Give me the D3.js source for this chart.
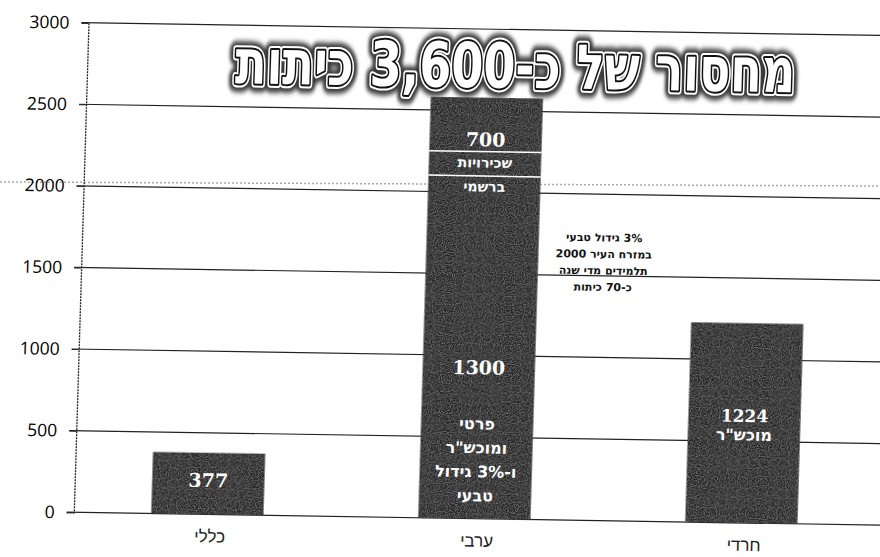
<!DOCTYPE html>
<html>
<head>
<meta charset="utf-8">
<script src="https://cdn.jsdelivr.net/npm/d3@7"></script>
<style>
  body { margin: 0; background: #fff; }
  svg { display: block; }
  .heb { direction: rtl; unicode-bidi: embed; }
</style>
</head>
<body>
<div id="chart"></div>
<script>
// data
const categories = ["כללי", "ערבי", "חרדי"];
const segments = [[377], [2100, 150, 330], [1224]]; // ערבי bar is stacked
const yTicks = [0, 500, 1000, 1500, 2000, 2500, 3000];
const titleText = "מחסור של כ-3,600 כיתות";
const noteLines = ["3% גידול טבעי", "במזרח העיר 2000", "תלמידים מדי שנה", "כ-70 כיתות"];

const width = 880, height = 557;
const margin = { top: 28.5, right: -2, bottom: 39, left: 81 };

const svg = d3.select("#chart").append("svg")
  .attr("width", width)
  .attr("height", height);

svg.append("rect").attr("width", width).attr("height", height).attr("fill", "#fff");

const defs = svg.append("defs");
defs.append("filter").attr("id", "halo")
  .append("feGaussianBlur").attr("stdDeviation", 2.5);

// light speckle like the photocopy
const grain = defs.append("filter").attr("id", "grain");
grain.append("feTurbulence")
  .attr("type", "fractalNoise").attr("baseFrequency", 0.9).attr("numOctaves", 1)
  .attr("seed", 3).attr("result", "n");
grain.append("feColorMatrix").attr("in", "n").attr("type", "matrix")
  .attr("values", "0 0 0 0 0.6  0 0 0 0 0.6  0 0 0 0 0.6  0 0 0 0.8 -0.35")
  .attr("result", "w");
grain.append("feComposite").attr("in", "w").attr("in2", "SourceGraphic")
  .attr("operator", "in").attr("result", "wc");
const merge = grain.append("feMerge");
merge.append("feMergeNode").attr("in", "SourceGraphic");
merge.append("feMergeNode").attr("in", "wc");

// scanner artefact line
svg.append("line")
  .attr("x1", 0).attr("x2", width)
  .attr("y1", 182).attr("y2", 186)
  .attr("stroke", "#aaa").attr("stroke-width", 1.5)
  .attr("stroke-dasharray", "2,2");

// the page was scanned slightly crooked (shear)
const kx = 0.03, ky = 0.016;
const g = svg.append("g")
  .attr("transform", `matrix(1, ${ky}, ${-kx}, 1, ${kx * 278}, ${-ky * 440})`);

const x = d3.scaleBand()
  .domain(categories)
  .range([margin.left, width - margin.right])
  .paddingInner(0.58)
  .paddingOuter(0.29);

const y = d3.scaleLinear()
  .domain([0, 3000])
  .range([height - margin.bottom, margin.top]);

// gridlines
g.append("g")
  .selectAll("line")
  .data(yTicks)
  .enter().append("line")
    .attr("x1", margin.left - 7)
    .attr("x2", width + 20)
    .attr("y1", d => y(d))
    .attr("y2", d => y(d))
    .attr("stroke", "#222")
    .attr("stroke-width", 1.2);

// y axis
const yAxis = g.append("g")
  .attr("transform", `translate(${margin.left}, 0)`)
  .call(d3.axisLeft(y).tickValues(yTicks).tickSize(7).tickPadding(12).tickFormat(d3.format("d")));
yAxis.select(".domain").attr("stroke", "#222").attr("stroke-dasharray", "2,1").attr("stroke-width", 1.3);
yAxis.selectAll(".tick line").attr("stroke", "#222");
yAxis.selectAll(".tick text")
  .attr("fill", "#000")
  .attr("font-family", "'Open Sans', sans-serif")
  .attr("font-size", 17.5);

// bars
const rects = [];
segments.forEach((segs, i) => {
  let base = 0;
  segs.forEach((v, j) => {
    rects.push({ cat: categories[i], y0: base, y1: base + v, j: j });
    base += v;
  });
});

g.append("g")
  .attr("filter", "url(#grain)")
  .selectAll("rect")
  .data(rects)
  .enter().append("rect")
    .attr("x", d => x(d.cat))
    .attr("y", d => y(d.y1))
    .attr("width", x.bandwidth())
    .attr("height", d => y(d.y0) - y(d.y1))
    .attr("fill", "#262626");

// white separators inside the stacked bar
g.append("g")
  .selectAll("line")
  .data(rects.filter(d => d.j > 0))
  .enter().append("line")
    .attr("x1", d => x(d.cat))
    .attr("x2", d => x(d.cat) + x.bandwidth())
    .attr("y1", d => y(d.y0))
    .attr("y2", d => y(d.y0))
    .attr("stroke", "#fff")
    .attr("stroke-width", 1.5);

// labels inside bars
const barText = [
  { cat: "כללי", y: 484, t: "377", size: 19, num: true },
  { cat: "ערבי", y: 139, t: "700", size: 19, num: true },
  { cat: "ערבי", y: 162, t: "שכירויות", size: 14 },
  { cat: "ערבי", y: 186, t: "ברשמי", size: 14 },
  { cat: "ערבי", y: 367, t: "1300", size: 19, num: true },
  { cat: "ערבי", y: 423, t: "פרטי", size: 16 },
  { cat: "ערבי", y: 447, t: "ומוכש\"ר", size: 16 },
  { cat: "ערבי", y: 471, t: "ו-3% גידול", size: 16 },
  { cat: "ערבי", y: 495, t: "טבעי", size: 16 },
  { cat: "חרדי", y: 411, t: "1224", size: 17, num: true },
  { cat: "חרדי", y: 430, t: "מוכש\"ר", size: 16 }
];

g.append("g")
  .selectAll("text")
  .data(barText)
  .enter().append("text")
    .attr("class", d => d.num ? null : "heb")
    .attr("x", d => x(d.cat) + x.bandwidth() / 2)
    .attr("y", d => d.y)
    .attr("dy", "0.35em")
    .attr("text-anchor", "middle")
    .attr("fill", "#fff")
    .attr("font-weight", "bold")
    .attr("font-family", d => d.num ? "'DejaVu Serif', serif" : "'DejaVu Sans', sans-serif")
    .attr("font-size", d => d.size)
    .text(d => d.t);

// category labels
g.append("g")
  .selectAll("text")
  .data(categories)
  .enter().append("text")
    .attr("class", "heb")
    .attr("x", d => x(d) + x.bandwidth() / 2 + 3)
    .attr("y", height - margin.bottom + 22)
    .attr("dy", "0.35em")
    .attr("text-anchor", "middle")
    .attr("fill", "#222")
    .attr("font-family", "'Liberation Sans', sans-serif")
    .attr("font-size", 17)
    .text(d => d);

// annotation next to the ערבי bar
g.append("g")
  .selectAll("text")
  .data(noteLines)
  .enter().append("text")
    .attr("class", "heb")
    .attr("x", 603)
    .attr("y", (d, i) => 235 + i * 16.5)
    .attr("dy", "0.35em")
    .attr("text-anchor", "middle")
    .attr("fill", "#111")
    .attr("font-weight", "bold")
    .attr("font-family", "'DejaVu Sans', sans-serif")
    .attr("font-size", 11)
    .text(d => d);

// title with halo and outline, squeezed horizontally to the scanned width
const title = g.append("g")
  .attr("font-family", "'DejaVu Sans', sans-serif")
  .attr("font-weight", "bold")
  .attr("font-size", 62);

const layers = [
  { stroke: "#3a3a3a", w: 17, fill: "#3a3a3a", filter: "url(#halo)" },
  { stroke: "#fff", w: 8, fill: "#fff" },
  { stroke: "#111", w: 4, fill: "#fff" },
  { stroke: "none", w: 0, fill: "#fff" }
];

const titleTexts = title.selectAll("text")
  .data(layers)
  .enter().append("text")
    .attr("class", "heb")
    .attr("x", 0)
    .attr("y", 0)
    .attr("dy", "0.35em")
    .attr("text-anchor", "middle")
    .attr("fill", d => d.fill)
    .attr("stroke", d => d.stroke)
    .attr("stroke-width", d => d.w)
    .attr("stroke-linejoin", "round")
    .attr("filter", d => d.filter || null)
    .text(titleText);

const natural = titleTexts.nodes()[3].getComputedTextLength();
title.attr("transform", `translate(509, 65) scale(${560 / natural}, 1)`);
</script>
</body>
</html>
